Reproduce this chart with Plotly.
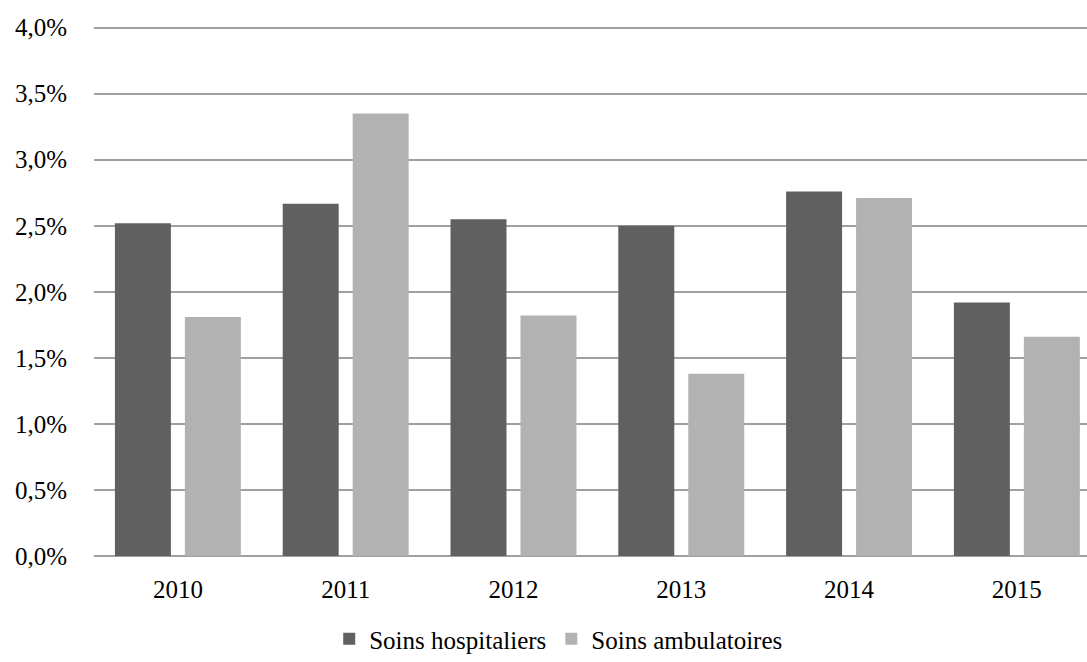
import plotly.graph_objects as go

years = ["2010", "2011", "2012", "2013", "2014", "2015"]
hospitaliers = [2.52, 2.667, 2.55, 2.50, 2.76, 1.92]
ambulatoires = [1.81, 3.35, 1.82, 1.38, 2.71, 1.66]
y_ticks = [0, 0.5, 1.0, 1.5, 2.0, 2.5, 3.0, 3.5, 4.0]
y_labels = ["0,0%", "0,5%", "1,0%", "1,5%", "2,0%", "2,5%", "3,0%", "3,5%", "4,0%"]

font_family = "Liberation Serif, DejaVu Serif, serif"

fig = go.Figure()
fig.add_trace(go.Bar(x=years, y=hospitaliers, name="Soins hospitaliers",
                     marker=dict(color="#606060", line=dict(width=0))))
fig.add_trace(go.Bar(x=years, y=ambulatoires, name="Soins ambulatoires",
                     marker=dict(color="#b2b2b2", line=dict(width=0))))

fig.update_layout(
    width=1087, height=662,
    margin=dict(l=94, r=0, t=25, b=106),
    paper_bgcolor="white", plot_bgcolor="white",
    barmode="group", bargap=0.166, bargroupgap=0.2,
    font=dict(family=font_family, size=25, color="#000000"),
    showlegend=True,
    legend=dict(orientation="h", xref="container", x=0.514, xanchor="center",
                yref="container", y=0.0, yanchor="bottom",
                font=dict(size=25), itemwidth=30, traceorder="normal"),
    xaxis=dict(type="category", range=[-0.5, 5.418], showgrid=False,
               showline=False, zeroline=False, ticks="",
               ticklabelstandoff=16),
    yaxis=dict(range=[0, 4.02], tickvals=y_ticks, ticktext=y_labels,
               showgrid=True, gridcolor="#a0a0a0", gridwidth=2,
               zeroline=True, zerolinecolor="#a0a0a0", zerolinewidth=2,
               showline=False, ticks="", ticklabelstandoff=26),
)

fig.write_html("out.html")
